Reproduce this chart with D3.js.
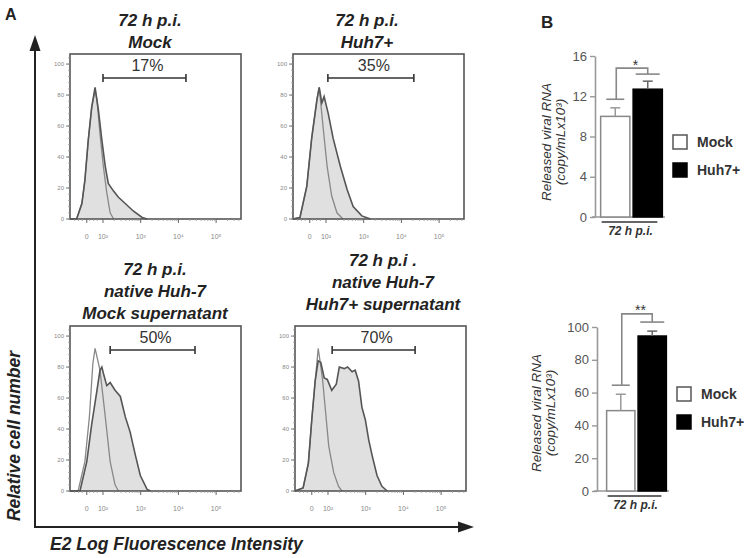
<!DOCTYPE html>
<html><head><meta charset="utf-8">
<script src="https://cdn.jsdelivr.net/npm/d3@7"></script>
<style>body{margin:0;background:#fff} svg{display:block}</style>
</head><body>
<svg id="c" width="754" height="558"></svg>
<script>
// ---------------- DATA ----------------
// Panel A: flow cytometry histograms (x in log-decade units, y in % of max)
const histTitles = [
  ["72 h p.i.", "Mock"],
  ["72 h p.i.", "Huh7+"],
  ["72 h p.i.", "native Huh-7", "Mock supernatant"],
  ["72 h p.i .", "native Huh-7", "Huh7+ supernatant"]
];
const histPercent = ["17%", "35%", "50%", "70%"];
const histGates = [[2.0, 4.2], [2.05, 4.33], [2.19, 4.44], [2.11, 4.31]];
const gateLevel = 91;
const histXTicks = [1.57, 2, 3, 4, 5];
const histXTickLabels = ["0", "10²", "10³", "10⁴", "10⁵"];
const histYTicks = [0, 20, 40, 60, 80, 100];

const sampleMock = [[1.13,0],[1.30,0],[1.44,10],[1.52,25],[1.61,51],[1.70,72],[1.79,85],[1.88,70],[1.97,51],[2.06,34],[2.14,23],[2.28,18],[2.41,14],[2.59,10],[2.81,5],[3.04,1],[3.17,0]];
const controlMock = [[1.13,0],[1.30,0],[1.44,10],[1.52,25],[1.61,51],[1.70,72],[1.79,83],[1.84,77],[1.92,55],[2.01,34],[2.10,17],[2.19,4],[2.28,0]];

const sampleHuh = [[1.13,0],[1.31,1],[1.49,21],[1.62,52],[1.76,77],[1.82,85],[1.89,75],[1.95,79],[2.06,68],[2.19,52],[2.38,34],[2.56,19],[2.72,8],[2.95,2],[3.18,0]];
const controlHuh = [[1.13,0],[1.31,1],[1.49,21],[1.62,52],[1.76,77],[1.82,85],[1.92,60],[2.03,34],[2.15,15],[2.29,4],[2.45,0]];

const sampleMockSup = [[1.13,0],[1.39,0],[1.57,19],[1.70,43],[1.84,65],[1.92,78],[1.97,80],[2.01,76],[2.10,68],[2.19,70],[2.32,65],[2.46,61],[2.59,48],[2.72,38],[2.86,23],[2.99,10],[3.17,1],[3.26,0]];
const controlMockSup = [[1.13,0],[1.34,0],[1.52,19],[1.64,48],[1.73,82],[1.79,92],[1.92,78],[2.06,48],[2.19,19],[2.32,4],[2.41,0]];

const sampleHuhSup = [[1.12,0],[1.34,2],[1.48,18],[1.57,46],[1.66,71],[1.74,84],[1.81,83],[1.90,73],[1.98,72],[2.10,65],[2.22,69],[2.30,80],[2.43,79],[2.52,80],[2.64,77],[2.72,78],[2.81,71],[2.90,54],[2.99,46],[3.08,33],[3.17,23],[3.30,10],[3.43,3],[3.57,0]];
const controlHuhSup = [[1.12,0],[1.34,2],[1.48,18],[1.57,46],[1.66,71],[1.74,92],[1.80,82],[1.86,71],[1.94,50],[2.02,29],[2.15,12],[2.28,3],[2.37,0]];

const histSamples = [sampleMock, sampleHuh, sampleMockSup, sampleHuhSup];
const histControls = [controlMock, controlHuh, controlMockSup, controlHuhSup];

// Panel B: bar charts
const barCategories = ["Mock", "Huh7+"];
const barValuesTop = [10.0, 12.7];
const barErrorsTop = [0.85, 0.8];
const barTicksTop = [0, 4, 8, 12, 16];
const sigLevelsTop = [11.7, 14.2, 14.8];
const sigLabelTop = "*";

const barValuesBottom = [49, 94.5];
const barErrorsBottom = [10, 3];
const barTicksBottom = [0, 20, 40, 60, 80, 100];
const sigLevelsBottom = [64.5, 103, 108];
const sigLabelBottom = "**";

const barGroupLabel = "72 h p.i.";
const barYTitle = ["Released viral RNA", "(copy/mLx10³)"];

// ---------------- DRAW ----------------
const FONT = "'Liberation Sans', Arial, Helvetica, sans-serif";
const svg = d3.select("#c").style("font-family", FONT);

// panel letters
svg.append("text").attr("x", 5).attr("y", 20).text("A")
  .attr("font-size", 16).attr("font-weight", "bold").attr("fill", "#222");
svg.append("text").attr("x", 541).attr("y", 28).text("B")
  .attr("font-size", 17).attr("font-weight", "bold").attr("fill", "#222");

// big axes with arrows
const ax = svg.append("g");
ax.append("line").attr("x1", 35).attr("y1", 527).attr("x2", 35).attr("y2", 48)
  .attr("stroke", "#222").attr("stroke-width", 2);
ax.append("path").attr("d", "M35,35 L29.5,51 L40.5,51 Z").attr("fill", "#222");
ax.append("line").attr("x1", 34).attr("y1", 527).attr("x2", 462).attr("y2", 527)
  .attr("stroke", "#222").attr("stroke-width", 2);
ax.append("path").attr("d", "M474,527 L458,521.5 L458,532.5 Z").attr("fill", "#222");

svg.append("text").attr("transform", "translate(20,436) rotate(-90)")
  .attr("text-anchor", "middle").attr("font-size", 17.5).attr("font-weight", "bold")
  .attr("font-style", "italic").attr("fill", "#222").text("Relative cell number");
svg.append("text").attr("x", 50).attr("y", 550)
  .attr("font-size", 17.5).attr("font-weight", "bold")
  .attr("font-style", "italic").attr("fill", "#222").text("E2 Log Fluorescence Intensity");

// histogram panels
const panelPos = [
  {x: 70, y: 54, tx: 150, ty: 26},
  {x: 293, y: 54, tx: 367, ty: 26},
  {x: 70, y: 326, tx: 155, ty: 275},
  {x: 295, y: 326, tx: 383, ty: 266}
];
const PW = 171, PH = 165;
const hx = d3.scaleLinear().domain([1.125, 5.66]).range([0, PW]);
const hy = d3.scaleLinear().domain([0, 106.5]).range([PH, 0]);

panelPos.forEach((p, i) => {
  const g = svg.append("g").attr("transform", `translate(${p.x},${p.y})`);
  // title
  const t = svg.append("text").attr("text-anchor", "middle")
    .attr("font-size", 17).attr("font-weight", "bold").attr("font-style", "italic")
    .attr("fill", "#222");
  histTitles[i].forEach((s, k) => {
    t.append("tspan").attr("x", p.tx).attr("y", p.ty + k * 22).text(s);
  });
  // sample (filled)
  const area = d3.area().x(d => hx(d[0])).y0(hy(0)).y1(d => hy(d[1]));
  const line = d3.line().x(d => hx(d[0])).y(d => hy(d[1]));
  g.append("path").datum(histSamples[i]).attr("d", area).attr("fill", "#e0e0e0");
  g.append("path").datum(histControls[i]).attr("d", line)
    .attr("fill", "none").attr("stroke", "#888").attr("stroke-width", 1.3);
  g.append("path").datum(histSamples[i]).attr("d", line)
    .attr("fill", "none").attr("stroke", "#555").attr("stroke-width", 1.6);
  // frame
  g.append("rect").attr("width", PW).attr("height", PH)
    .attr("fill", "none").attr("stroke", "#555").attr("stroke-width", 1.6);
  // y ticks
  const minorY = d3.range(0, 106, 4);
  g.selectAll(".my").data(minorY).enter().append("line")
    .attr("x1", -2).attr("x2", 0).attr("y1", d => hy(d)).attr("y2", d => hy(d))
    .attr("stroke", "#999").attr("stroke-width", 0.8);
  g.selectAll(".Y").data(histYTicks).enter().append("line")
    .attr("x1", -4).attr("x2", 0).attr("y1", d => hy(d)).attr("y2", d => hy(d))
    .attr("stroke", "#777").attr("stroke-width", 1);
  g.selectAll(".yl").data(histYTicks).enter().append("text")
    .attr("x", -6).attr("y", d => hy(d) + 2).attr("text-anchor", "end")
    .attr("font-size", 6).attr("fill", "#888").text(d => d);
  // x ticks
  const minorX = [];
  [2, 3, 4, 5].forEach(dec => { for (let k = 2; k <= 9; k++) { const v = dec + Math.log10(k); if (v < 5.66) minorX.push(v); } });
  [1.25, 1.35, 1.45, 1.65, 1.75, 1.85].forEach(v => minorX.push(v));
  g.selectAll(".mx").data(minorX).enter().append("line")
    .attr("x1", d => hx(d)).attr("x2", d => hx(d)).attr("y1", PH).attr("y2", PH + 2)
    .attr("stroke", "#999").attr("stroke-width", 0.8);
  g.selectAll(".X").data(histXTicks).enter().append("line")
    .attr("x1", d => hx(d)).attr("x2", d => hx(d)).attr("y1", PH).attr("y2", PH + 4)
    .attr("stroke", "#666").attr("stroke-width", 1);
  g.selectAll(".xl").data(histXTicks).enter().append("text")
    .attr("x", d => hx(d)).attr("y", PH + 20).attr("text-anchor", "middle")
    .attr("font-size", 7).attr("fill", "#888").text((d, k) => histXTickLabels[k]);
  // gate bracket
  const gx0 = hx(histGates[i][0]), gx1 = hx(histGates[i][1]), gy = hy(gateLevel);
  g.append("line").attr("x1", gx0).attr("x2", gx1).attr("y1", gy).attr("y2", gy)
    .attr("stroke", "#333").attr("stroke-width", 1.6);
  [gx0, gx1].forEach(v => g.append("line").attr("x1", v).attr("x2", v)
    .attr("y1", gy - 4).attr("y2", gy + 4).attr("stroke", "#333").attr("stroke-width", 1.6));
  g.append("text").attr("x", (gx0 + gx1) / 2 + 3).attr("y", gy - 7)
    .attr("text-anchor", "middle").attr("font-size", 16).attr("fill", "#333")
    .text(histPercent[i]);
});

// bar charts
function drawBars(cfg) {
  const y = d3.scaleLinear().domain([0, cfg.max]).range([cfg.y0, cfg.y1]);
  const x = d3.scaleBand().domain(barCategories).range(cfg.xr).paddingInner(0.1).paddingOuter(0.02);
  const g = svg.append("g");
  const yAxis = d3.axisLeft(y).tickValues(cfg.ticks).tickSize(5).tickSizeOuter(0).tickPadding(3);
  const ga = g.append("g").attr("transform", `translate(${cfg.ax},0)`).call(yAxis);
  ga.select(".domain").attr("stroke", "#999").attr("stroke-width", 1.6);
  ga.selectAll(".tick line").attr("stroke", "#999").attr("stroke-width", 1.4);
  ga.selectAll(".tick text").attr("font-size", 13).attr("fill", "#555").attr("font-family", FONT);
  // x baseline
  g.append("line").attr("x1", cfg.ax - 3).attr("x2", cfg.xr[1] + 2)
    .attr("y1", y(0)).attr("y2", y(0)).attr("stroke", "#999").attr("stroke-width", 1.6);
  // bars
  g.selectAll(".bar").data(cfg.values).enter().append("rect")
    .attr("x", (d, i) => x(barCategories[i])).attr("width", x.bandwidth())
    .attr("y", d => y(d)).attr("height", d => y(0) - y(d))
    .attr("fill", (d, i) => i === 0 ? "#fff" : "#000")
    .attr("stroke", (d, i) => i === 0 ? "#888" : "#000").attr("stroke-width", 1.5);
  // error bars (upper)
  cfg.values.forEach((v, i) => {
    const cx = x(barCategories[i]) + x.bandwidth() / 2;
    const col = i === 0 ? "#999" : "#666";
    g.append("line").attr("x1", cx).attr("x2", cx).attr("y1", y(v)).attr("y2", y(v + cfg.errors[i]))
      .attr("stroke", col).attr("stroke-width", 1.5);
    g.append("line").attr("x1", cx - 5).attr("x2", cx + 5)
      .attr("y1", y(v + cfg.errors[i])).attr("y2", y(v + cfg.errors[i]))
      .attr("stroke", col).attr("stroke-width", 1.5);
  });
  // significance bracket
  const c0 = x(barCategories[0]) + x.bandwidth() / 2;
  const c1 = x(barCategories[1]) + x.bandwidth() / 2;
  const [l0, l1, lt] = cfg.sig;
  const sc = "#888";
  g.append("line").attr("x1", c0 - 9).attr("x2", c0 + 9).attr("y1", y(l0)).attr("y2", y(l0)).attr("stroke", sc).attr("stroke-width", 1.6);
  g.append("line").attr("x1", c1 - 12).attr("x2", c1 + 12).attr("y1", y(l1)).attr("y2", y(l1)).attr("stroke", sc).attr("stroke-width", 1.6);
  g.append("path").attr("d", `M${c0 + 1},${y(l0)} V${y(lt)} H${c1} V${y(l1)}`)
    .attr("fill", "none").attr("stroke", sc).attr("stroke-width", 1.6);
  g.append("text").attr("x", (c0 + c1) / 2 + 4).attr("y", y(lt) + 1.5)
    .attr("text-anchor", "middle").attr("font-size", 14).attr("fill", "#333").text(cfg.sigLabel);
  // group underline and label
  const u0 = x(barCategories[0]) + 1, u1 = x(barCategories[1]) + x.bandwidth() - 5;
  g.append("line").attr("x1", u0).attr("x2", u1).attr("y1", y(0) + 5).attr("y2", y(0) + 5)
    .attr("stroke", "#333").attr("stroke-width", 1.4);
  g.append("text").attr("x", (u0 + u1) / 2 + 1).attr("y", y(0) + 18).attr("text-anchor", "middle")
    .attr("font-size", 12).attr("font-weight", "bold").attr("font-style", "italic").attr("fill", "#333")
    .text(barGroupLabel);
  // y title
  barYTitle.forEach((s, k) => {
    g.append("text").attr("transform", `translate(${cfg.tx + k * 14},${cfg.ty}) rotate(-90)`)
      .attr("text-anchor", "middle").attr("font-size", 13.5).attr("font-style", "italic")
      .attr("fill", "#333").text(s);
  });
  // legend
  barCategories.forEach((c, k) => {
    g.append("rect").attr("x", cfg.lx).attr("y", cfg.ly + k * 28).attr("width", 14).attr("height", 14)
      .attr("fill", k === 0 ? "#fff" : "#000").attr("stroke", k === 0 ? "#555" : "#000").attr("stroke-width", 1.5);
    g.append("text").attr("x", cfg.lx + 24).attr("y", cfg.ly + k * 28 + 12)
      .attr("font-size", 14).attr("font-weight", "bold").attr("fill", "#333").text(c);
  });
}

drawBars({max: 16, y0: 217, y1: 56, xr: [600, 663], ax: 595, ticks: barTicksTop,
  values: barValuesTop, errors: barErrorsTop, sig: sigLevelsTop, sigLabel: sigLabelTop,
  tx: 551, ty: 142, lx: 673, ly: 135});
drawBars({max: 100, y0: 491, y1: 327, xr: [606, 667], ax: 597, ticks: barTicksBottom,
  values: barValuesBottom, errors: barErrorsBottom, sig: sigLevelsBottom, sigLabel: sigLabelBottom,
  tx: 541, ty: 413, lx: 677, ly: 387});
</script>
</body></html>
